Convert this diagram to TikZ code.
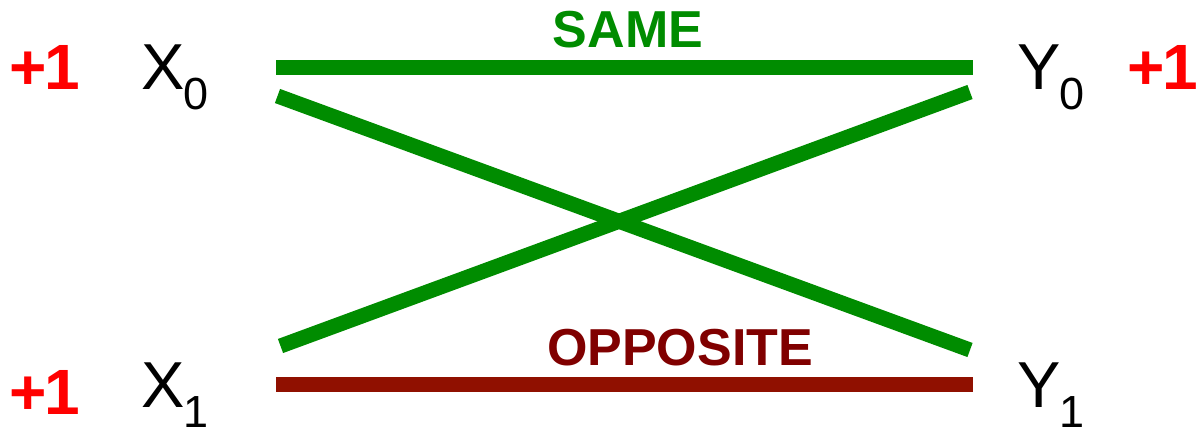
\documentclass[tikz,border=0pt]{standalone}
\usepackage{fontspec}
\setmainfont{Liberation Sans}
\definecolor{lgreen}{RGB}{0,140,0}
\definecolor{lred}{RGB}{144,16,0}
\definecolor{tred}{RGB}{128,0,0}
\definecolor{plus}{RGB}{255,0,0}
\begin{document}
\begin{tikzpicture}[x=1pt,y=-1pt,
  every node/.style={inner sep=0pt,outer sep=0pt},
  gline/.style={draw=lgreen,line width=15pt},
  rline/.style={draw=lred,line width=15pt},
  plusone/.style={anchor=base,text=plus,font=\fontsize{64}{64}\selectfont\bfseries},
  var/.style={anchor=base west,font=\fontsize{65}{65}\selectfont},
  lab/.style={anchor=base,font=\fontsize{52}{52}\selectfont\bfseries}]
\useasboundingbox (0,0) rectangle (1197,427);
\newcommand{\sub}[1]{\raisebox{-20pt}{\fontsize{45}{45}\selectfont #1}}
\newcommand{\plusone}{+\kern-2pt1}
% labels
\node[plusone] (p0) at (44.5,90) {\plusone};
\node[plusone] (p1) at (44.5,415) {\plusone};
\node[plusone] (p2) at (1162.5,90) {\plusone};
\node[var] (x0) at (141,90) {X\kern-1pt\sub{0}};
\node[var] (x1) at (141,408) {X\kern-1pt\sub{1}};
\node[var] (y0) at (1017,90) {Y\kern-1pt\sub{0}};
\node[var] (y1) at (1017,408) {Y\kern-1pt\sub{1}};
\node[lab,text=lgreen] (same) at (628,48) {SAME};
\node[lab,text=tred] (opp) at (680,366) {OPPOSITE};
% endpoints
\coordinate (a0) at (276,67.5);
\coordinate (b0) at (973,67.5);
\coordinate (a1) at (277.5,96);
\coordinate (b1) at (970,350);
\coordinate (a2) at (280.5,346);
\coordinate (b2) at (970,92);
\coordinate (a3) at (276,384.5);
\coordinate (b3) at (973,384.5);
\draw[gline] (a0) -- (b0);
\draw[gline] (a1) -- (b1);
\draw[gline] (a2) -- (b2);
\draw[rline] (a3) -- (b3);
\end{tikzpicture}
\end{document}
